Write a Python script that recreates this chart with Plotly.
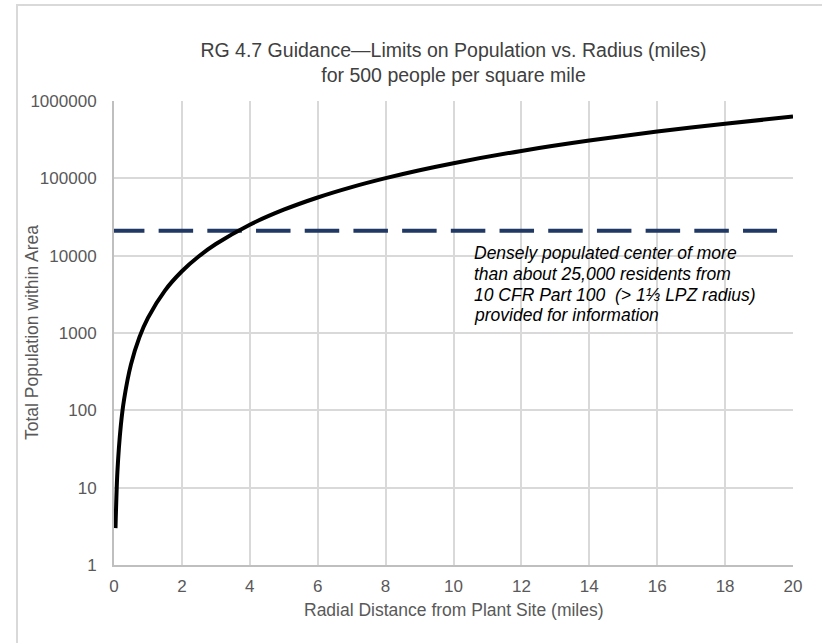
import plotly.graph_objects as go

# Radius (miles) and total population
radius = [0.044, 0.1, 0.2, 0.3, 0.5, 0.75, 1, 1.5, 2, 2.5, 3, 4, 5, 6, 7, 8, 9, 10,
          12, 14, 16, 18, 20]
population = [3, 16, 63, 141, 393, 884, 1571, 3534, 6283, 9817, 14137, 25133, 39270,
              56549, 76969, 100531, 127235, 157080, 226195, 307876, 402124, 508938, 628319]

# Densely populated center reference line
ref_x = [-0.12, 19.53]
ref_y = [21000, 21000]

y_ticks = [1, 10, 100, 1000, 10000, 100000, 1000000]
y_tick_text = ["1", "10", "100", "1000", "10000", "100000", "1000000"]
x_ticks = [0, 2, 4, 6, 8, 10, 12, 14, 16, 18, 20]

note_lines = [
    "Densely populated center of more",
    "than about 25,000 residents from",
    "10 CFR Part 100  (> 1⅓ LPZ radius)",
    "provided for information",
]

FONT = "Liberation Sans, Arial, sans-serif"
W, H = 822, 643
L, R, T, B = 114, 29, 101, 78
PW, PH = W - L - R, H - T - B


def px_x(p):
    return (p - L) / PW


def px_y(p):
    return (H - B - p) / PH


fig = go.Figure()
fig.add_trace(go.Scatter(
    x=ref_x, y=ref_y, mode="lines",
    line=dict(color="#1f3864", width=4, dash="34.5px,14.2px"),
    cliponaxis=False, showlegend=False, hoverinfo="skip"))
fig.add_trace(go.Scatter(
    x=radius, y=population, mode="lines",
    line=dict(color="#000000", width=4, shape="spline", smoothing=0.8),
    showlegend=False))

note_y = [253, 274, 295, 315]
for t, yy in zip(note_lines, note_y):
    fig.add_annotation(
        text="<i>" + t + "</i>", xref="paper", yref="paper",
        x=px_x(472), y=px_y(yy),
        xanchor="left", yanchor="middle", showarrow=False,
        font=dict(family=FONT, size=17.5, color="#000000"))

# axis titles
fig.add_annotation(
    text="Radial Distance from Plant Site (miles)", xref="paper", yref="paper",
    x=px_x(454), y=px_y(610), xanchor="center", yanchor="middle", showarrow=False,
    font=dict(family=FONT, size=17.5, color="#595959"))
fig.add_annotation(
    text="Total Population within Area", xref="paper", yref="paper",
    x=px_x(32), y=px_y(333), xanchor="center", yanchor="middle", showarrow=False,
    textangle=-90, font=dict(family=FONT, size=17.5, color="#595959"))

fig.add_shape(type="rect", xref="paper", yref="paper",
              x0=px_x(17), x1=1.2, y0=-0.3, y1=px_y(5),
              line=dict(color="#d9d9d9", width=2), fillcolor="rgba(0,0,0,0)",
              layer="below")

fig.update_layout(
    width=W, height=H,
    margin=dict(l=L, r=R, t=T, b=B),
    paper_bgcolor="white", plot_bgcolor="white",
    font=dict(family=FONT, color="#595959", size=13),
    title=dict(
        text="RG 4.7 Guidance—Limits on Population vs. Radius (miles)<br>for 500 people per square mile",
        x=0.5, xref="paper", xanchor="center", y=1 - 57 / H, yanchor="middle",
        font=dict(family=FONT, size=19.5, color="#404040")),
    xaxis=dict(range=[0, 20], tickvals=x_ticks, showgrid=True, gridcolor="#d9d9d9",
               gridwidth=2, showline=True, linecolor="#bfbfbf", linewidth=2,
               zeroline=False, ticks="", ticklabelstandoff=5,
               tickfont=dict(size=17, color="#595959")),
    yaxis=dict(type="log", range=[0, 6], tickvals=y_ticks, ticktext=y_tick_text,
               showgrid=True, gridcolor="#d9d9d9", gridwidth=2, showline=True,
               linecolor="#bfbfbf", linewidth=2, zeroline=False, ticks="",
               ticklabelstandoff=12, tickfont=dict(size=17, color="#595959")),
)

fig.write_html("out.html")
